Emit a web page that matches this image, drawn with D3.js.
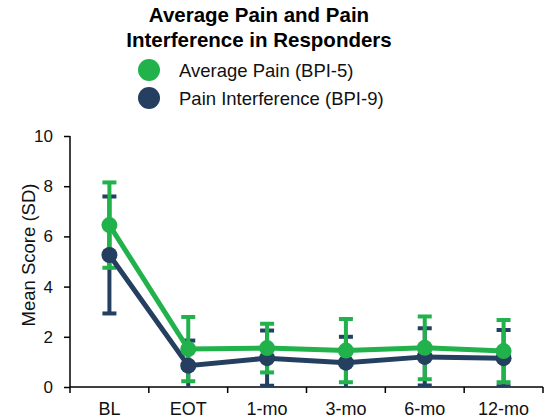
<!DOCTYPE html>
<html lang="en">
<head>
<meta charset="utf-8">
<style>
  body { margin: 0; background: #fff; font-family: "Liberation Sans", Arial, sans-serif; }
</style>
</head>
<body>
<svg width="547" height="418"></svg>
<script src="https://cdn.jsdelivr.net/npm/d3@7"></script>
<script>
var categories = ['BL', 'EOT', '1-mo', '3-mo', '6-mo', '12-mo']
var avgPain = [6.45, 1.51, 1.55, 1.45, 1.56, 1.43]
var avgPainSD = [1.7, 1.28, 0.97, 1.26, 1.25, 1.24]
var interference = [5.26, 0.85, 1.15, 0.97, 1.2, 1.15]
var interferenceSD = [2.33, 1.0, 1.1, 1.03, 1.14, 1.12]
var yTicks = [0, 2, 4, 6, 8, 10]

var series = [
  { name: 'Pain Interference (BPI-9)', values: interference, sd: interferenceSD, color: '#243f5f' },
  { name: 'Average Pain (BPI-5)', values: avgPain, sd: avgPainSD, color: '#22b24c' }
]

var svg = d3.select('svg')
var margin = { top: 136, right: 4, bottom: 31, left: 70 }
var width = 547 - margin.left - margin.right
var height = 418 - margin.top - margin.bottom

var x = d3.scaleBand().domain(categories).range([0, width])
var y = d3.scaleLinear().domain([0, 10]).range([height, 0])

var g = svg.append('g').attr('transform', 'translate(' + margin.left + ',' + margin.top + ')')

svg.append('defs').append('clipPath').attr('id', 'plot')
  .append('rect').attr('x', -20).attr('y', -20).attr('width', width + 40).attr('height', height + 20)

// title
var title = svg.append('text')
  .attr('text-anchor', 'middle')
  .attr('font-size', 20.5).attr('font-weight', 'bold').attr('fill', '#000')
title.append('tspan').attr('x', 259).attr('y', 22).text('Average Pain and Pain')
title.append('tspan').attr('x', 259).attr('y', 47).text('Interference in Responders')

// legend
var legendItems = [series[1], series[0]]
var legend = svg.selectAll('.leg').data(legendItems).enter().append('g')
  .attr('class', 'leg')
  .attr('transform', function (d, i) { return 'translate(149,' + (70 + i * 28) + ')' })
legend.append('circle').attr('r', 11).attr('fill', function (d) { return d.color })
legend.append('text').attr('x', 30).attr('dy', '0.36em')
  .attr('font-size', 18.5).attr('fill', '#111').text(function (d) { return d.name })

// axes
var yAxis = g.append('g').call(d3.axisLeft(y).tickValues(yTicks).tickSize(6).tickPadding(11))
var xAxis = g.append('g').attr('transform', 'translate(0,' + height + ')')
  .call(d3.axisBottom(x).tickSize(0).tickPadding(15))

xAxis.selectAll('.tick-edge').data(d3.range(categories.length + 1)).enter().append('line')
  .attr('x1', function (i) { return i * x.bandwidth() })
  .attr('x2', function (i) { return i * x.bandwidth() })
  .attr('y1', 0).attr('y2', 6).attr('stroke', '#000').attr('stroke-width', 1.5)

;[yAxis, xAxis].forEach(function (a) {
  a.select('.domain').attr('stroke', '#000').attr('stroke-width', 1.5)
  a.selectAll('.tick line').attr('stroke', '#000').attr('stroke-width', 1.5)
  a.selectAll('text').attr('fill', '#111')
    .attr('font-family', '"Liberation Sans", Arial, sans-serif')
})
yAxis.selectAll('text').attr('font-size', 17)
xAxis.selectAll('text').attr('font-size', 18)
yAxis.select('.domain').attr('d', 'M0,' + height + 'V0')
xAxis.select('.domain').attr('d', 'M0,0H' + width)

svg.append('text')
  .attr('transform', 'translate(35,255) rotate(-90)')
  .attr('text-anchor', 'middle').attr('font-size', 18.5).attr('fill', '#111')
  .text('Mean Score (SD)')

var plot = g.append('g').attr('clip-path', 'url(#plot)')
var cx = function (i) { return x(categories[i]) + x.bandwidth() / 2 }
var line = d3.line().x(function (d, i) { return cx(i) }).y(function (d) { return y(d) })

series.forEach(function (s) {
  var sg = plot.append('g')
  s.values.forEach(function (v, i) {
    var top = y(v + s.sd[i]), bot = y(v - s.sd[i])
    sg.append('line').attr('x1', cx(i)).attr('x2', cx(i)).attr('y1', top).attr('y2', bot)
      .attr('stroke', s.color).attr('stroke-width', 4)
    ;[top, bot].forEach(function (yy) {
      sg.append('line').attr('x1', cx(i) - 7).attr('x2', cx(i) + 7).attr('y1', yy).attr('y2', yy)
        .attr('stroke', s.color).attr('stroke-width', 4)
    })
  })
})

series.forEach(function (s) {
  plot.append('path').datum(s.values).attr('d', line)
    .attr('fill', 'none').attr('stroke', s.color).attr('stroke-width', 5)
  plot.selectAll(null).data(s.values).enter().append('circle')
    .attr('cx', function (d, i) { return cx(i) })
    .attr('cy', function (d) { return y(d) })
    .attr('r', 8).attr('fill', s.color)
})
</script>
</body>
</html>
